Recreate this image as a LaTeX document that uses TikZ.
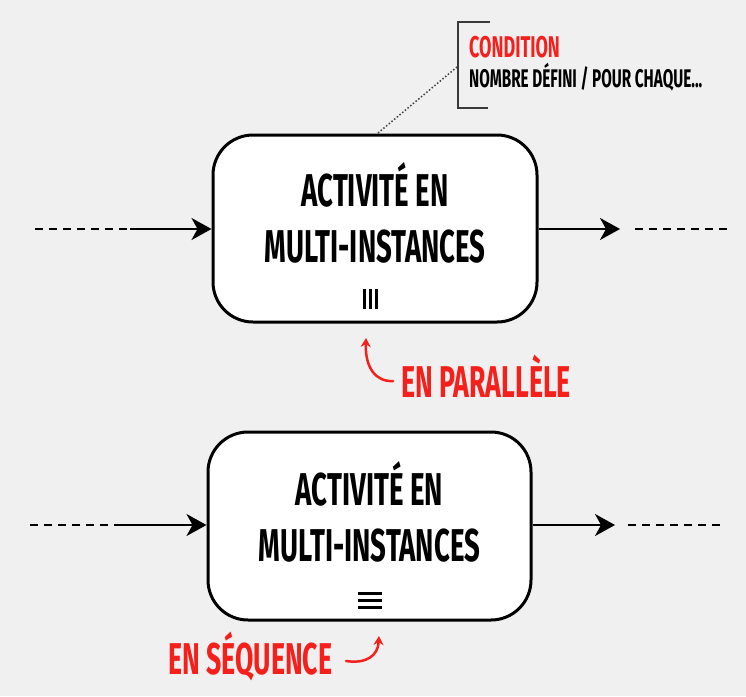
\documentclass[tikz,border=0pt]{standalone}
\usepackage{fontspec}
\newfontfamily\dispfont{Fira Sans}[FakeStretch=0.6]
\usetikzlibrary{arrows.meta}
\definecolor{bg}{HTML}{F0F0F0}
\definecolor{accent}{HTML}{F5201B}
\definecolor{bracket}{HTML}{3A3A3A}
\tikzset{
  actbox/.style={draw=black, line width=3pt, fill=white, rounded corners=40pt, inner sep=0pt},
  acttext/.style={font=\dispfont\bfseries\fontsize{46}{56}\selectfont, align=center, inner sep=0pt},
  flow/.style={line width=2pt, -{Stealth[length=20pt,width=22pt,inset=6pt]}},
  flowdash/.style={line width=2pt, dash pattern=on 8pt off 6pt},
  note/.style={font=\dispfont\bfseries\fontsize{44.5}{50}\selectfont, text=accent, inner sep=0pt},
  pointer/.style={draw=accent, line width=2.5pt, line cap=round, -{Stealth[length=9pt,width=10pt]}},
  marker/.style={line width=3pt}
}
\begin{document}
\begin{tikzpicture}[x=1pt,y=-1pt]
\fill[bg] (0,0) rectangle (746,696);
\useasboundingbox (0,0) rectangle (746,696);

% upper activity (parallel instances)
\node[actbox, minimum width=324pt, minimum height=187pt] (top) at (375,228.5) {};
\node[acttext] (toptxt) at (375,213) {ACTIVITÉ EN\\MULTI-INSTANCES};
\draw[marker] (364,289) -- (364,309) (370,289) -- (370,309) (376,289) -- (376,309);

\coordinate (tinA) at (35,229);
\coordinate (tinB) at (130,229);
\coordinate (toutA) at (635,229);
\coordinate (toutB) at (730,229);
\coordinate (toutE) at (620,229);
\draw[flowdash] (tinA) -- (tinB);
\draw[flow] (tinB) -- (top.west |- tinB);
\draw[flow] (top.east |- toutE) -- (toutE);
\draw[flowdash] (toutA) -- (toutB);

% condition annotation
\draw[bracket, line width=2.5pt] (490,22) -- (458,22) -- (458,108) -- (488,108);
\coordinate (condA) at (378,133);
\coordinate (condB) at (457,67);
\draw[black!75, line width=1.5pt, dotted] (condA) -- (condB);
\node[font=\dispfont\bfseries\fontsize{30}{32}\selectfont, text=accent, anchor=west, inner sep=0pt] (cond) at (469,47) {CONDITION};
\node[font=\dispfont\bfseries\fontsize{25.5}{28}\selectfont, text=black, anchor=west, inner sep=0pt] (condtxt) at (469,77) {NOMBRE DÉFINI / POUR CHAQUE...};

% parallel label
\node[note, anchor=west] (par) at (401,376) {EN PARALLÈLE};
\coordinate (parEnd) at (366,338);
\draw[pointer] (393,381) .. controls (376,382) and (365,368) .. (parEnd);

% lower activity (sequential instances)
\node[actbox, minimum width=323pt, minimum height=188pt] (bot) at (369.5,526) {};
\node[acttext] (bottxt) at (369.5,512) {ACTIVITÉ EN\\MULTI-INSTANCES};
\draw[marker] (358,593) -- (382,593) (358,600) -- (382,600) (358,607) -- (382,607);

\coordinate (binA) at (30,525);
\coordinate (binB) at (120,525);
\coordinate (boutA) at (628,525);
\coordinate (boutB) at (725,525);
\coordinate (boutE) at (615,525);
\draw[flowdash] (binA) -- (binB);
\draw[flow] (binB) -- (bot.west |- binB);
\draw[flow] (bot.east |- boutE) -- (boutE);
\draw[flowdash] (boutA) -- (boutB);

% sequence label
\node[note, anchor=west] (seq) at (168,656) {EN SÉQUENCE};
\coordinate (seqEnd) at (379,636);
\draw[pointer] (346,661) .. controls (366,664) and (378,656) .. (seqEnd);
\end{tikzpicture}
\end{document}
